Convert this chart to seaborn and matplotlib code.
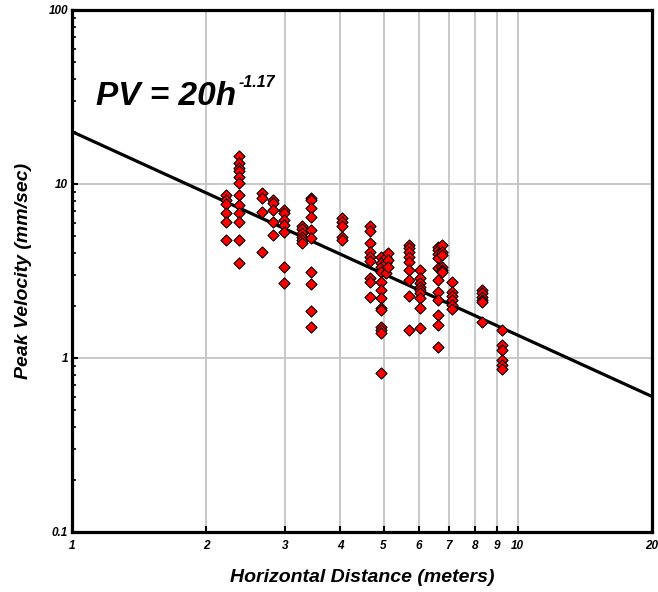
import numpy as np
import pandas as pd
import matplotlib
matplotlib.use("Agg")
import matplotlib.pyplot as plt
import seaborn as sns

# ---- data ----
col_distance = [2.21, 2.37, 2.67, 2.82, 2.99, 3.28, 3.43, 4.04, 4.65, 4.94,
                5.05, 5.11, 5.71, 6.03, 6.63, 6.77, 7.11, 8.30, 9.23]
col_velocity = [
    [8.65, 8.1, 7.7, 6.8, 6.05, 4.77],
    [14.4, 13.2, 12.3, 11.8, 11.0, 10.1, 8.65, 7.57, 6.79, 6.07, 4.77, 3.50],
    [8.85, 8.28, 6.93, 4.08],
    [8.09, 7.74, 7.09, 6.07, 5.09],
    [7.09, 6.81, 6.21, 5.81, 5.30, 3.33, 2.70],
    [5.74, 5.51, 5.23, 4.96, 4.77, 4.58],
    [8.34, 8.09, 7.25, 6.44, 5.44, 4.87, 3.13, 2.66, 1.87, 1.51],
    [6.35, 6.07, 5.76, 4.98, 4.77],
    [5.74, 5.39, 4.56, 4.08, 3.82, 3.61, 2.87, 2.74, 2.23],
    [3.82, 3.50, 3.35, 3.13, 2.74, 2.46, 2.20, 1.93, 1.89, 1.51, 1.45, 1.39, 0.817],
    [3.82, 3.50, 3.07],
    [4.0, 3.66, 3.35],
    [4.46, 4.27, 4.08, 3.82, 3.58, 3.20, 2.81, 2.28, 1.45],
    [3.20, 2.87, 2.69, 2.57, 2.46, 2.35, 2.20, 1.93, 1.48],
    [4.36, 4.17, 3.94, 3.76, 3.28, 2.81, 2.40, 2.15, 1.77, 1.55, 1.16],
    [4.46, 4.08, 3.90, 3.35, 3.20, 3.13],
    [2.73, 2.39, 2.27, 2.15, 2.02, 1.91],
    [2.46, 2.35, 2.25, 2.15, 2.11, 1.62],
    [1.45, 1.19, 1.11, 0.97, 0.91, 0.87],
]
fit_coef = 20.0
fit_exp = -1.17
fit_range = [1.0, 20.0]
x_ticks = [1, 2, 3, 4, 5, 6, 7, 8, 9, 10, 20]
y_ticks = [0.1, 1, 10, 100]
y_tick_labels = ["0.1", "1", "10", "100"]

rows = []
for d, vs in zip(col_distance, col_velocity):
    for v in vs:
        rows.append({"distance": d, "velocity": v})
df = pd.DataFrame(rows)
fit_df = pd.DataFrame({"distance": fit_range,
                       "velocity": [fit_coef * x ** fit_exp for x in fit_range]})

# ---- style ----
sns.set_style("white")
plt.rcParams["font.family"] = ["Liberation Sans", "DejaVu Sans"]
plt.rcParams["text.color"] = "black"
plt.rcParams["axes.labelcolor"] = "black"
plt.rcParams["xtick.color"] = "black"
plt.rcParams["ytick.color"] = "black"

fig = plt.figure(figsize=(6.58, 5.92), dpi=100)
ax = fig.add_axes([72 / 658, 60 / 592, 580 / 658, 522 / 592])
ax.set_xscale("log")
ax.set_yscale("log")
ax.set_xlim(1, 20)
ax.set_ylim(0.1, 100)

# grid lines
for xv in x_ticks[1:-1]:
    ax.axvline(xv, color="#c4c4c4", lw=1.3, zorder=0)
for yv in [1, 10]:
    ax.axhline(yv, color="#c4c4c4", lw=1.3, zorder=0)

sns.lineplot(data=fit_df, x="distance", y="velocity", ax=ax,
             color="black", lw=2.3, zorder=2)
sns.scatterplot(data=df, x="distance", y="velocity", ax=ax, marker="D",
                s=32, color="#ff0000", edgecolor="black", linewidth=0.8,
                zorder=3)

# ticks
ax.set_xticks(x_ticks)
ax.set_xticklabels([str(t) for t in x_ticks])
ax.xaxis.set_minor_locator(matplotlib.ticker.NullLocator())
ax.set_yticks(y_ticks)
ax.set_yticklabels(y_tick_labels)
ax.yaxis.set_minor_locator(matplotlib.ticker.LogLocator(base=10, subs=np.arange(2, 10)))
ax.yaxis.set_minor_formatter(matplotlib.ticker.NullFormatter())
ax.tick_params(axis="both", which="major", direction="in", length=4, width=1.5,
               labelsize=8.5, color="black", labelcolor="black", bottom=True,
               left=True, top=False, right=False)
ax.tick_params(axis="x", which="major", pad=6)
ax.tick_params(axis="y", which="major", pad=3)
ax.tick_params(axis="y", which="minor", direction="in", length=3, width=1.2,
               left=True, right=False, color="black")
for lab in ax.get_xticklabels() + ax.get_yticklabels():
    lab.set_fontweight("bold")
    lab.set_fontstyle("italic")

for sp in ax.spines.values():
    sp.set_linewidth(2.3)
    sp.set_color("black")

ax.set_xlabel("Horizontal Distance (meters)", fontsize=14, fontweight="bold",
              fontstyle="italic", labelpad=12, color="black")
ax.set_ylabel("Peak Velocity (mm/sec)", fontsize=14, fontweight="bold",
              fontstyle="italic", labelpad=12, color="black")

t = ax.text(1.13, 28.5, "PV = 20h", fontsize=24, fontweight="bold",
            fontstyle="italic", va="baseline", ha="left", color="black")
ax.annotate("-1.17", xy=(1.02, 0.72), xycoords=t, fontsize=11.5,
            fontweight="bold", fontstyle="italic", va="bottom", ha="left",
            color="black")

fig.savefig("out.png", dpi=100)
